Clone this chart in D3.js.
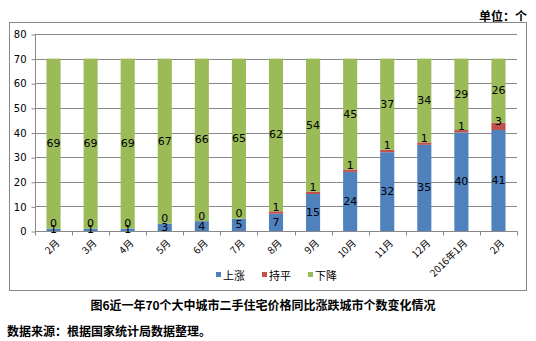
<!DOCTYPE html>
<html><head><meta charset="utf-8">
<script src="https://cdn.jsdelivr.net/npm/d3@7"></script>
<style>body{margin:0;background:#fff}svg{display:block}</style>
</head><body>
<svg id="c" width="536" height="341"></svg>
<script>
const categories = ["2月","3月","4月","5月","6月","7月","8月","9月","10月","11月","12月","2016年1月","2月"];
const rise = [1,1,1,3,4,5,7,15,24,32,35,40,41];
const flat = [0,0,0,0,0,0,1,1,1,1,1,1,3];
const fall = [69,69,69,67,66,65,62,54,45,37,34,29,26];
const seriesNames = ["上涨","持平","下降"];
const colors = ["#4F81BD","#C0504D","#9BBB59"];
const yTicks = [0,10,20,30,40,50,60,70,80];

const svg = d3.select("#c");
const cjk = "'Noto Sans CJK SC', sans-serif";
const num = "'DejaVu Sans', Verdana, sans-serif";

// outer border
svg.append("rect").attr("x",9.5).attr("y",22.5).attr("width",517).attr("height",268)
  .attr("fill","none").attr("stroke","#888").attr("stroke-width",1);

const m = {l:35, r:517, t:34, b:231};
const x = d3.scaleBand().domain(d3.range(categories.length)).range([m.l,m.r]).paddingInner(0.62).paddingOuter(0.31);
const xb = d3.scaleBand().domain(d3.range(categories.length)).range([m.l,m.r]);
const y = d3.scaleLinear().domain([0,80]).range([m.b,m.t]);

// gridlines
svg.append("g").selectAll("line").data(yTicks.filter(d=>d>0)).join("line")
  .attr("x1",m.l).attr("x2",m.r).attr("y1",d=>Math.round(y(d))+0.5).attr("y2",d=>Math.round(y(d))+0.5)
  .attr("stroke","#888").attr("stroke-width",1);

// y axis
const ya = svg.append("g").attr("transform",`translate(${m.l+0.5},0.5)`)
  .call(d3.axisLeft(y).tickValues(yTicks).tickSize(4).tickPadding(5));
ya.select(".domain").attr("stroke","#888").attr("d",`M0,${y(80)}V${y(0)}`);
ya.selectAll(".tick line").attr("stroke","#888");
ya.selectAll(".tick text").attr("font-family",num).attr("font-size",10).attr("fill","#000");

// stacked data
const rows = categories.map((c,i)=>({i, 上涨:rise[i], 持平:flat[i], 下降:fall[i]}));
const stack = d3.stack().keys(seriesNames)(rows);

svg.append("g").selectAll("g").data(stack).join("g").attr("fill",(d,k)=>colors[k])
  .selectAll("rect").data(d=>d).join("rect")
  .attr("x",d=>x(d.data.i)).attr("width",x.bandwidth())
  .attr("y",d=>y(d[1])).attr("height",d=>y(d[0])-y(d[1]));

// x axis
const xa = svg.append("g").attr("transform",`translate(0.5,${m.b+0.5})`);
xa.append("line").attr("x1",m.l).attr("x2",m.r).attr("stroke","#888");
xa.selectAll("line.t").data(d3.range(categories.length+1)).join("line").attr("class","t")
  .attr("x1",i=>Math.round(m.l+i*xb.step())).attr("x2",i=>Math.round(m.l+i*xb.step()))
  .attr("y1",0).attr("y2",4).attr("stroke","#888");
xa.selectAll("text").data(categories).join("text")
  .attr("transform",(d,i)=>`translate(${xb(i)+xb.bandwidth()/2+3},${9}) rotate(-45)`)
  .attr("text-anchor","end").attr("dominant-baseline","central")
  .attr("font-family",cjk).attr("font-size",10).attr("fill","#000").text(d=>d);

// data labels
stack.forEach((s,k)=>{
  svg.append("g").selectAll("text").data(s).join("text")
    .attr("x",d=>x(d.data.i)+x.bandwidth()/2)
    .attr("y",d=>y((d[0]+d[1])/2) - (k===1?5:0))
    .attr("text-anchor","middle").attr("dominant-baseline","central")
    .attr("font-family",num).attr("font-size",11).attr("fill","#000")
    .text(d=>d[1]-d[0]);
});

// legend
const lx = [216,262,308];
const lg = svg.append("g");
seriesNames.forEach((n,k)=>{
  lg.append("rect").attr("x",lx[k]).attr("y",272).attr("width",5).attr("height",5).attr("fill",colors[k]);
  lg.append("text").attr("x",lx[k]+7).attr("y",274.5).attr("dominant-baseline","central")
    .attr("font-family",cjk).attr("font-size",11).attr("fill","#000").text(n);
});

// texts
svg.append("text").attr("x",527).attr("y",15).attr("text-anchor","end").attr("dominant-baseline","central")
  .attr("font-family",cjk).attr("font-size",12).attr("font-weight","bold").text("单位：个");
svg.append("text").attr("x",263).attr("y",304).attr("text-anchor","middle").attr("dominant-baseline","central")
  .attr("font-family",cjk).attr("font-size",12).attr("font-weight","bold").text("图6近一年70个大中城市二手住宅价格同比涨跌城市个数变化情况");
svg.append("text").attr("x",7).attr("y",330).attr("dominant-baseline","central")
  .attr("font-family",cjk).attr("font-size",12).attr("font-weight","bold").text("数据来源：根据国家统计局数据整理。");
</script>
</body></html>
